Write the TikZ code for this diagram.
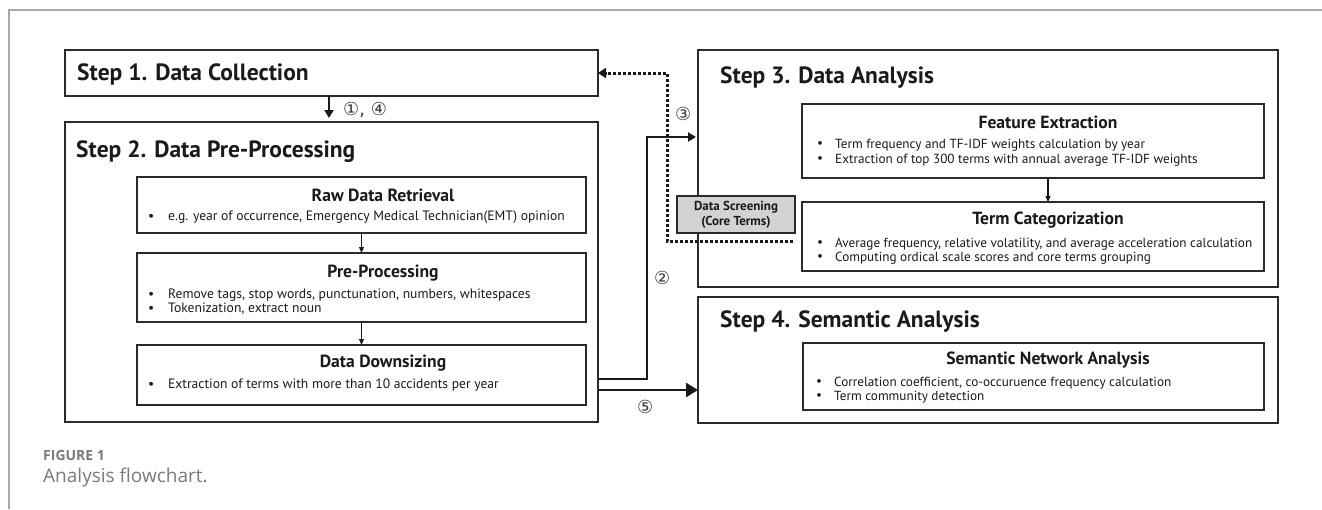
\documentclass[tikz,border=0pt]{standalone}
\usepackage{fontspec}
\setmainfont{PT Sans}
\newfontfamily\symfont{DejaVu Sans}
\newfontfamily\capfont{Open Sans}
\usetikzlibrary{arrows.meta}
\definecolor{ink}{HTML}{1A1A1A}
\definecolor{edge}{HTML}{2B2B2B}
\definecolor{frame}{HTML}{A8A8A8}
\definecolor{capgray}{HTML}{7A7A7A}
\definecolor{screen}{HTML}{D3D3D3}
\tikzset{
  box/.style={draw=edge, line width=1.6pt, rectangle, anchor=north west, inner sep=0pt, outer sep=0pt},
  steptitle/.style={anchor=west, inner sep=0pt, text=ink, font=\fontsize{23.5}{27}\selectfont\bfseries},
  subtitle/.style={anchor=center, inner sep=0pt, text=ink, font=\fontsize{17.6}{20}\selectfont\bfseries},
  bulA/.style={anchor=west, inner sep=0pt, text=ink, font=\fontsize{13.6}{15}\selectfont},
  bulB/.style={anchor=west, inner sep=0pt, text=ink, font=\fontsize{13.2}{15}\selectfont},
  circnum/.style={anchor=west, inner sep=0pt, text=ink!85, font=\symfont\fontsize{18}{20}\selectfont},
  thickarrow/.style={draw=ink, line width=2.5pt, -{Triangle[length=8pt,width=9pt]}},
  bigarrow/.style={draw=ink, line width=2.7pt, -{Triangle[length=12pt,width=14pt]}},
  thinarrow/.style={draw=ink, line width=1.1pt, -{Triangle[length=6pt,width=5pt]}},
  dotarrow/.style={draw=ink, line width=3pt, dash pattern=on 2.8pt off 2.2pt, -{Triangle[length=8pt,width=10pt]}}
}
\begin{document}
\begin{tikzpicture}[x=1pt,y=-1pt]
\useasboundingbox (0,0) rectangle (1322,509);
\fill[white] (0,0) rectangle (1322,509);
% page frame
\draw[frame, line width=1.4pt] (9,509) -- (9,10) -- (1322,10);

% Step 1
\node[box, minimum width=533pt, minimum height=46pt] (s1) at (65,50) {};
\node[steptitle] (s1t) at (77,74) {Step 1. Data Collection};

% Step 2
\node[box, minimum width=533pt, minimum height=300pt] (s2) at (65,122) {};
\node[steptitle] (s2t) at (76,152) {Step 2. Data Pre-Processing};

\node[box, minimum width=449pt, minimum height=56pt] (raw) at (137,177) {};
\node[subtitle] (rawt) at (383,195) {Raw Data Retrieval};
\node[bulA] (rawb1) at (148,217) {•};
\node[bulA] (rawx1) at (168,217) {e.g. year of occurrence, Emergency Medical Technician(EMT) opinion};

\node[box, minimum width=449pt, minimum height=69pt] (pre) at (137,253) {};
\node[subtitle] (pret) at (383,273) {Pre-Processing};
\node[bulA] (preb1) at (148,295) {•};
\node[bulA] (prex1) at (168,295) {Remove tags, stop words, punctunation, numbers, whitespaces};
\node[bulA] (preb2) at (148,309) {•};
\node[bulA] (prex2) at (168,309) {Tokenization, extract noun};

\node[box, minimum width=449pt, minimum height=60pt] (down) at (137,345) {};
\node[subtitle] (downt) at (383,363) {Data Downsizing};
\node[bulA] (downb1) at (148,385) {•};
\node[bulA] (downx1) at (168,385) {Extraction of terms with more than 10 accidents per year};

% Step 3
\node[box, minimum width=580pt, minimum height=237pt] (s3) at (698,50) {};
\node[steptitle] (s3t) at (720,78) {Step 3. Data Analysis};

\node[box, minimum width=462pt, minimum height=74pt] (fe) at (802,104) {};
\node[subtitle] (fet) at (1048,122) {Feature Extraction};
\node[bulB] (feb1) at (817,145) {•};
\node[bulB] (fex1) at (835,145) {Term frequency and TF-IDF weights calculation by year};
\node[bulB] (feb2) at (817,160) {•};
\node[bulB] (fex2) at (835,160) {Extraction of top 300 terms with annual average TF-IDF weights};

\node[box, minimum width=462pt, minimum height=69pt] (tc) at (802,202) {};
\node[subtitle] (tct) at (1048,220) {Term Categorization};
\node[bulB] (tcb1) at (817,244) {•};
\node[bulB] (tcx1) at (835,244) {Average frequency, relative volatility, and average acceleration calculation};
\node[bulB] (tcb2) at (817,258) {•};
\node[bulB] (tcx2) at (835,258) {Computing ordical scale scores and core terms grouping};

% Step 4
\node[box, minimum width=580pt, minimum height=126pt] (s4) at (698,297) {};
\node[steptitle] (s4t) at (720,322) {Step 4. Semantic Analysis};

\node[box, minimum width=461pt, minimum height=67pt] (sn) at (803,343) {};
\node[subtitle] (snt) at (1048,360) {Semantic Network Analysis};
\node[bulB] (snb1) at (816,383) {•};
\node[bulB] (snx1) at (834,383) {Correlation coefficient, co-occuruence frequency calculation};
\node[bulB] (snb2) at (816,397) {•};
\node[bulB] (snx2) at (834,397) {Term community detection};

% Data screening
\node[box, fill=screen, minimum width=118pt, minimum height=37pt] (ds) at (677,196) {};
\node[anchor=center, inner sep=0pt, text=ink, align=center, font=\fontsize{13}{15}\selectfont\bfseries] (dst) at (736,214.5) {Data Screening\\(Core Terms)};

% connectors
\draw[thickarrow, shorten >=4pt] (s1.south -| 329,0) -- (s2.north -| 329,0);
\node[circnum] (n14) at (343,110) {①, ④};

\draw[thinarrow] (raw.south) -- (pre.north);
\draw[thinarrow] (pre.south) -- (down.north);
\draw[thinarrow] (fe.south -| 1048,0) -- (tc.north -| 1048,0);

\draw[thickarrow, shorten >=2pt] (s2.east |- 0,379) -- (647,379) |- (s3.west |- 0,137);
\node[circnum] (n2) at (654,278) {②};

\draw[bigarrow] (s2.east |- 0,390) -- (s4.west |- 0,390);
\node[circnum] (n5) at (637,407) {⑤};

\draw[dotarrow, shorten <=9pt] (tc.west |- 0,241) -- (667,241) -- (667,73) -- (s1.east |- 0,73);
\node[circnum] (n3) at (675,114) {③};

% caption
\node[anchor=west, inner sep=0pt, text=capgray, font=\capfont\fontsize{14}{16}\selectfont\bfseries] (fig) at (43,455) {FIGURE 1};
\node[anchor=west, inner sep=0pt, text=capgray, font=\capfont\fontsize{19}{22}\selectfont] (cap) at (43,478) {Analysis flowchart.};
\end{tikzpicture}
\end{document}
